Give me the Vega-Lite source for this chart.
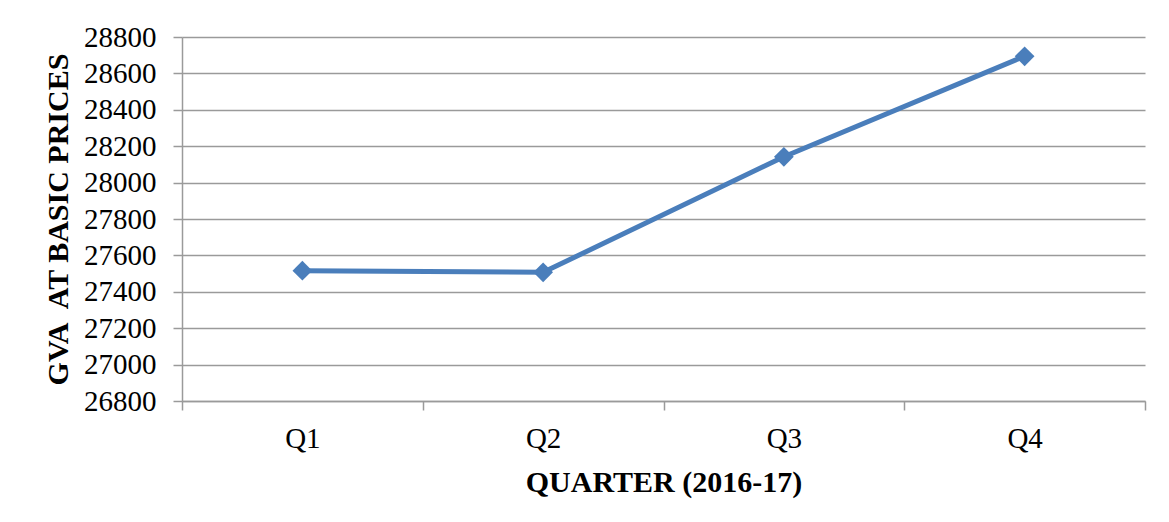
{
  "$schema": "https://vega.github.io/schema/vega-lite/v6.json",
  "autosize": {"type": "none"},
  "width": 963,
  "height": 364,
  "padding": {"left": 182, "top": 37, "right": 24, "bottom": 121},
  "background": "white",
  "config": {
    "view": {"stroke": null},
    "font": "Liberation Serif"
  },
  "data": {
    "values": [
      {"quarter": "Q1", "gva": 27516},
      {"quarter": "Q2", "gva": 27507},
      {"quarter": "Q3", "gva": 28142},
      {"quarter": "Q4", "gva": 28694}
    ]
  },
  "encoding": {
    "x": {
      "field": "quarter",
      "type": "nominal",
      "sort": null,
      "scale": {"paddingInner": 0, "paddingOuter": 0},
      "axis": {
        "title": "QUARTER (2016-17)",
        "titleFont": "Liberation Serif",
        "titleFontSize": 30,
        "titleFontWeight": "bold",
        "titleColor": "black",
        "titlePadding": 14,
        "labelFont": "Liberation Serif",
        "labelFontSize": 29,
        "labelColor": "black",
        "labelAngle": 0,
        "labelPadding": 14,
        "tickBand": "extent",
        "tickSize": 9,
        "tickColor": "#9a9a9a",
        "tickWidth": 1.5,
        "domainColor": "#9a9a9a",
        "domainWidth": 1.5,
        "grid": false
      }
    },
    "y": {
      "field": "gva",
      "type": "quantitative",
      "scale": {"domain": [26800, 28800], "nice": false, "zero": false},
      "axis": {
        "title": "GVA\u00a0 AT BASIC PRICES",
        "titleFont": "Liberation Serif",
        "titleFontSize": 30,
        "titleFontWeight": "bold",
        "titleColor": "black",
        "titlePadding": 10,
        "labelFont": "Liberation Serif",
        "labelFontSize": 29,
        "labelColor": "black",
        "labelPadding": 17,
        "values": [26800, 27000, 27200, 27400, 27600, 27800, 28000, 28200, 28400, 28600, 28800],
        "format": "d",
        "tickSize": 9,
        "tickColor": "#9a9a9a",
        "tickWidth": 1.5,
        "domainColor": "#9a9a9a",
        "domainWidth": 1.5,
        "grid": true,
        "gridColor": "#9a9a9a",
        "gridWidth": 1.5
      }
    }
  },
  "layer": [
    {"mark": {"type": "line", "color": "#4a7ebb", "strokeWidth": 5}},
    {"mark": {"type": "point", "shape": "diamond", "filled": true, "opacity": 1, "color": "#4a7ebb", "size": 390}}
  ]
}
